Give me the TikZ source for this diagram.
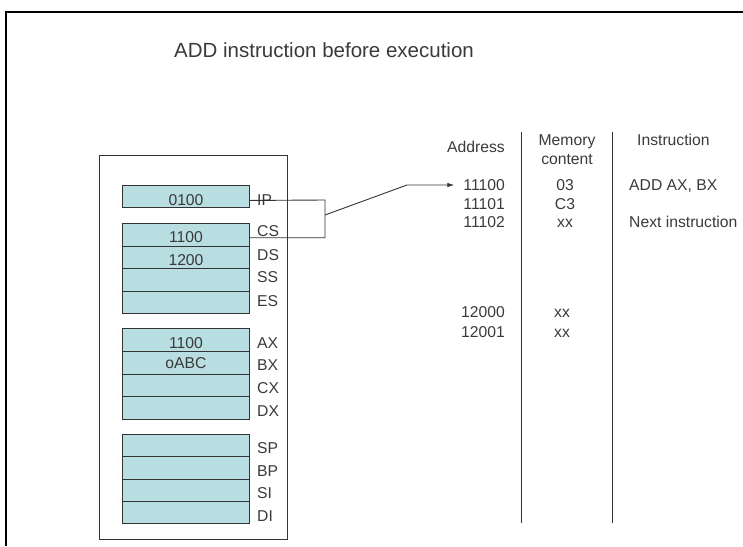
\documentclass[tikz,border=0pt]{standalone}
\usepackage{fontspec}
\setmainfont{Liberation Sans}
\usetikzlibrary{arrows.meta}
\definecolor{regfill}{HTML}{B9DEE2}
\definecolor{ink}{HTML}{333333}
\definecolor{txt}{HTML}{3A3A3A}
\begin{document}
\begin{tikzpicture}[x=1pt,y=-1pt,
  reg/.style={draw=ink, fill=regfill, line width=0.9pt, minimum width=127pt, inner sep=0pt, anchor=north west},
  val/.style={font=\fontsize{15.7}{19}\selectfont, text=txt, anchor=base, inner sep=0pt},
  rlab/.style={val, anchor=base west},
  hdr/.style={val},
  conn/.style={draw=ink, line width=0.9pt},
  col/.style={draw=ink, line width=1pt}
]
\useasboundingbox (0,0) rectangle (743,546);
% frame
\draw[line width=2pt, black] (6,546) -- (6,12) -- (743,12);
% title
\node[val, anchor=base west, font=\fontsize{20.5}{24}\selectfont] (title) at (174,57) {ADD instruction before execution};
% register block
\node[draw=ink, line width=1pt, minimum width=188pt, minimum height=384pt, anchor=north west, inner sep=0pt] (cpu) at (99,155) {};
% registers
\node[reg, minimum height=22pt] (ip) at (122,185) {};
\node[reg, minimum height=22.5pt] (cs) at (122,223) {};
\node[reg, minimum height=22.5pt] (ds) at (122,245.5) {};
\node[reg, minimum height=22.5pt] (ss) at (122,268) {};
\node[reg, minimum height=22.5pt] (es) at (122,290.5) {};
\node[reg, minimum height=22.75pt] (ax) at (122,328) {};
\node[reg, minimum height=22.75pt] (bx) at (122,350.75) {};
\node[reg, minimum height=22.75pt] (cx) at (122,373.5) {};
\node[reg, minimum height=22.75pt] (dx) at (122,396.25) {};
\node[reg, minimum height=22.25pt] (sp) at (122,434) {};
\node[reg, minimum height=22.25pt] (bp) at (122,456.25) {};
\node[reg, minimum height=22.25pt] (si) at (122,478.5) {};
\node[reg, minimum height=22.25pt] (di) at (122,500.75) {};
% register values
\node[val] (vip) at (186,205.7) {0100};
\node[val] (vcs) at (186,242.7) {1100};
\node[val] (vds) at (186,265.7) {1200};
\node[val] (vax) at (186,348.7) {1100};
\node[val] (vbx) at (186,368.7) {oABC};
% register labels
\node[rlab] (lip) at (257,205.7) {IP};
\node[rlab] (lcs) at (257,236.7) {CS};
\node[rlab] (lds) at (257,260.7) {DS};
\node[rlab] (lss) at (257,282.7) {SS};
\node[rlab] (les) at (257,306.7) {ES};
\node[rlab] (lax) at (257,348.7) {AX};
\node[rlab] (lbx) at (257,370.7) {BX};
\node[rlab] (lcx) at (257,393.7) {CX};
\node[rlab] (ldx) at (257,416.7) {DX};
\node[rlab] (lsp) at (257,453.7) {SP};
\node[rlab] (lbp) at (257,476.7) {BP};
\node[rlab] (lsi) at (257,498.7) {SI};
\node[rlab] (ldi) at (257,521.7) {DI};
% memory table
\draw[col] (521,132) -- (521,523);
\draw[col] (612,132) -- (612,523);
\node[hdr, anchor=base east] (haddr) at (505,152.7) {Address};
\node[hdr, anchor=north, align=center, font=\fontsize{15.7}{19}\selectfont] (hmem) at (567,134.5) {Memory\\content};
\node[hdr, anchor=base west] (hins) at (637,145.7) {Instruction};
\node[val, anchor=base east] (a11100) at (505,190.7) {11100};
\node[val, anchor=base east] (a11101) at (505,209.2) {11101};
\node[val, anchor=base east] (a11102) at (505,227.7) {11102};
\node[val, anchor=base east] (a12000) at (505,317.7) {12000};
\node[val, anchor=base east] (a12001) at (505,337.7) {12001};
\node[val] (m11100) at (565,190.7) {03};
\node[val] (m11101) at (565,209.2) {C3};
\node[val] (m11102) at (565,227.7) {xx};
\node[val] (m12000) at (562,317.7) {xx};
\node[val] (m12001) at (562,337.7) {xx};
\node[val, anchor=base west] (i11100) at (629,190.7) {ADD AX, BX};
\node[val, anchor=base west] (i11102) at (629,227.7) {Next instruction};
% connector
\coordinate (ipout) at ([yshift=-4pt]ip.east);
\coordinate (csout) at ([yshift=-3pt]cs.east);
\coordinate (brk) at (325,215);
\coordinate (bend) at (407,185);
\coordinate (tip) at ([xshift=-9pt]a11100.west |- 0,185);
\draw[conn] (ipout) -- (325,200) |- (csout);
\draw[conn, -{Latex[length=7pt,width=4.5pt]}] (brk) -- (bend) -- (tip);
\end{tikzpicture}
\end{document}
